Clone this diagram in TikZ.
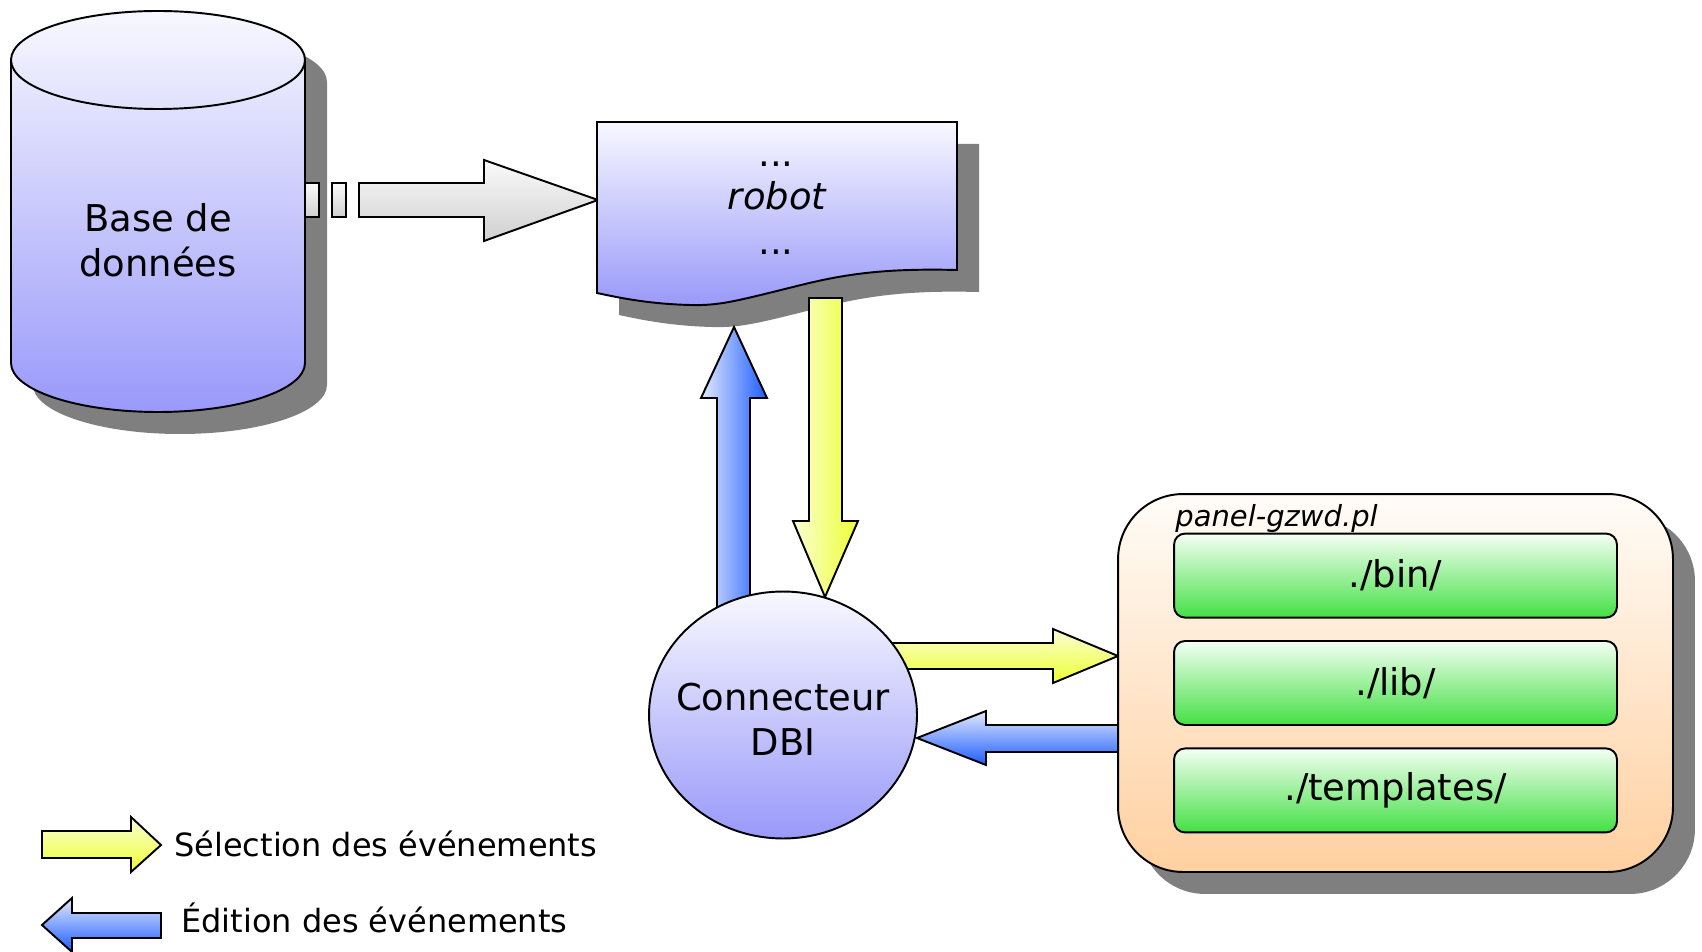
\documentclass[tikz,border=0pt]{standalone}
\usepackage{fontspec}
\setmainfont{DejaVu Sans}
\usetikzlibrary{shadows,shapes,positioning,calc}

\definecolor{lavtop}{HTML}{F8F8FF}
\definecolor{lavbot}{HTML}{9999FA}
\definecolor{shadowgray}{HTML}{7F7F7F}
\definecolor{greytop}{HTML}{FAFAFA}
\definecolor{greybot}{HTML}{D0D0D0}
\definecolor{yeltop}{HTML}{FAFFD4}
\definecolor{yelbot}{HTML}{EEFF33}
\definecolor{bluetop}{HTML}{E2EAFF}
\definecolor{bluebot}{HTML}{1E5CFF}
\definecolor{peachtop}{HTML}{FFFCF8}
\definecolor{peachbot}{HTML}{FFD0A0}
\definecolor{greentop}{HTML}{F4FFF4}
\definecolor{greenbot}{HTML}{44E044}

\begin{document}
\begin{tikzpicture}
[x=0.02cm,y=-0.02cm,
font=\fontsize{21}{25.6}\selectfont,
outline/.style={draw=black,line width=1.1pt,line join=miter},
lavfill/.style={outline,top color=lavtop,bottom color=lavbot},
shadowfill/.style={fill=shadowgray},
grayarrow/.style={outline,top color=greytop,bottom color=greybot},
yelh/.style={outline,top color=yeltop,bottom color=yelbot},
yelv/.style={outline,left color=yeltop,right color=yelbot},
blueh/.style={outline,top color=bluetop,bottom color=bluebot},
bluev/.style={outline,left color=bluetop,right color=bluebot},
folder/.style={outline,rounded corners=1.3cm,minimum width=11.1cm,minimum height=7.56cm,
  top color=peachtop,bottom color=peachbot,
  drop shadow={shadow xshift=.44cm,shadow yshift=-.44cm,fill=shadowgray,opacity=1}},
dirbox/.style={outline,rounded corners=.22cm,minimum width=8.86cm,minimum height=1.68cm,
  top color=greentop,bottom color=greenbot},
legendtext/.style={anchor=base west,inner sep=0pt,font=\fontsize{18.2}{22}\selectfont}]
%%
\useasboundingbox (0,0) rectangle (1702,952);
%% shadows
\fill[shadowfill,shift={(22,22)}] (11,60) -- (11,363) arc[start angle=180,end angle=0,x radius=147,y radius=49]
  -- (305,60) arc[start angle=0,end angle=-180,x radius=147,y radius=49] -- cycle;
\fill[shadowfill,shift={(22,22)}] (597,122) -- (957,122) -- (957,270) .. controls (880,268) and (840,275) .. (793,287)
  .. controls (740,300) and (720,306) .. (690,305) .. controls (650,304) and (620,298) .. (597,293) -- cycle;
%% block arrows
\draw[grayarrow] (305,183) rectangle (319,217);
\draw[grayarrow] (332,183) rectangle (346,217);
\draw[grayarrow] (359,183) -- (484,183) -- (484,160) -- (598,200) -- (484,241) -- (484,217) -- (359,217) -- cycle;
\draw[bluev] (717,615) -- (717,398) -- (701,398) -- (734,327) -- (767,398) -- (750,398) -- (750,615) -- cycle;
\draw[yelv] (809,298) -- (842,298) -- (842,521) -- (858,521) -- (825,597) -- (793,521) -- (809,521) -- cycle;
\draw[yelh] (880,643) -- (1053,643) -- (1053,629) -- (1118,656) -- (1053,683) -- (1053,669) -- (880,669) -- cycle;
\draw[blueh] (1118,725) -- (986,725) -- (986,711) -- (917,738) -- (986,765) -- (986,752) -- (1118,752) -- cycle;
%% database
\draw[lavfill] (11,60) -- (11,363) arc[start angle=180,end angle=0,x radius=147,y radius=49]
  -- (305,60) arc[start angle=0,end angle=-180,x radius=147,y radius=49] -- cycle;
\draw[outline] (11,60) arc[start angle=180,end angle=0,x radius=147,y radius=49];
\node (db) [align=center] at (158,240) {Base de\\données};
%% robot
\draw[lavfill] (597,122) -- (957,122) -- (957,270) .. controls (880,268) and (840,275) .. (793,287)
  .. controls (740,300) and (720,306) .. (690,305) .. controls (650,304) and (620,298) .. (597,293) -- cycle;
\node (dotsa) [anchor=base] at (776,167) {...};
\node (robot) [anchor=base,font=\fontsize{21}{25.6}\selectfont\itshape] at (777,210) {robot};
\node (dotsb) [anchor=base] at (776,255) {...};
%% connecteur
\node (dbi) [ellipse,lavfill,minimum width=5.36cm,minimum height=4.94cm,inner sep=0pt] at (783,715) {};
\node (dbitext) [align=center] at (783,719) {Connecteur\\DBI};
%% panel
\node (panel) [folder] at (1395.5,683) {};
\node (plabel) [anchor=base west,inner sep=0pt,font=\fontsize{16.5}{20}\selectfont\itshape]
  at (1175,526) {panel-gzwd.pl};
\node (lib) [dirbox] at (panel.center) {./lib/};
\node (bin) [dirbox,above=0.43cm of lib] {./bin/};
\node (tpl) [dirbox,below=0.43cm of lib] {./templates/};
%% legend
\draw[yelh] (42,831) -- (131,831) -- (131,817) -- (161,845) -- (131,872) -- (131,858) -- (42,858) -- cycle;
\node (sel) [legendtext] at (174,856) {Sélection des événements};
\draw[blueh] (161,913) -- (72,913) -- (72,898) -- (42,925) -- (72,952) -- (72,938) -- (161,938) -- cycle;
\node (edi) [legendtext] at (181,932) {Édition des événements};
%%
\end{tikzpicture}
\end{document}
